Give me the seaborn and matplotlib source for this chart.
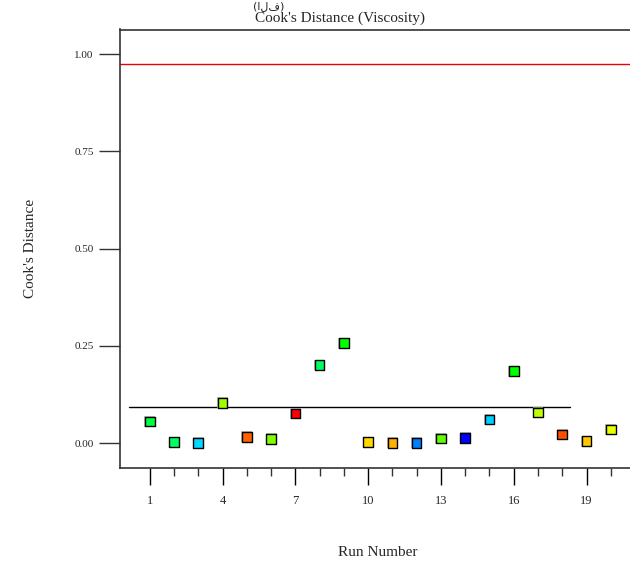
import matplotlib
matplotlib.use("Agg")
import matplotlib.pyplot as plt
import seaborn as sns
import pandas as pd
from matplotlib.ticker import FixedLocator

runs = list(range(1, 21))
cooks_d = [0.056, 0.003, 0.001, 0.104, 0.016, 0.011, 0.076, 0.201, 0.257, 0.003,
           0.001, 0.001, 0.012, 0.014, 0.061, 0.185, 0.079, 0.022, 0.005, 0.035]
point_colors = ["#00ff40", "#00ff60", "#00d8ff", "#a0ff00", "#ff6000", "#80ff00",
                "#ff0000", "#00ff60", "#00ff00", "#ffd800", "#ffb000", "#0080ff",
                "#60ff00", "#0000ff", "#00d0ff", "#00ff00", "#c0ff00", "#ff5000",
                "#ffc800", "#e8ff00"]
limit_red = 0.976
limit_black = 0.094
limit_black_span = (0.135, 18.32)
y_ticks = [0.00, 0.25, 0.50, 0.75, 1.00]
x_major_ticks = [1, 4, 7, 10, 13, 16, 19]

df = pd.DataFrame({"run": runs, "d": cooks_d, "c": [str(r) for r in runs]})

sns.set_style("white")
plt.rcParams["font.family"] = ["Liberation Serif", "DejaVu Sans"]

fig = plt.figure(figsize=(6.3, 5.63), dpi=100)
ax = fig.add_axes([120/630, 1 - 467.5/563, 1 - 120/630, (467.5 - 29.5)/563])

# shadow squares
ax.scatter(df["run"], df["d"], s=62, marker="s", color="#b0b0b0",
           edgecolor="none", zorder=2, alpha=0.8)
sns.scatterplot(data=df, x="run", y="d", hue="c", palette=point_colors,
                marker="s", s=48, edgecolor="black", linewidth=1.0,
                legend=False, ax=ax, zorder=3)

ax.axhline(limit_red, color="#ee0000", lw=1.0, zorder=1)
ax.plot(limit_black_span, [limit_black, limit_black], color="black", lw=1.0, zorder=1)

ax.set_xlim(-0.224, 20.79)
ax.set_ylim(-0.0625, 1.0635)

ax.yaxis.set_major_locator(FixedLocator(y_ticks))
ax.set_yticklabels([f"{v:.2f}" for v in y_ticks])
ax.xaxis.set_major_locator(FixedLocator(x_major_ticks))
ax.xaxis.set_minor_locator(FixedLocator(runs))
ax.set_xticklabels([str(v) for v in x_major_ticks])

for s in ["left", "top", "bottom"]:
    ax.spines[s].set_color("#333333")
    ax.spines[s].set_linewidth(1.2)
ax.spines["right"].set_visible(False)

ax.tick_params(axis="y", which="major", direction="out", length=15, width=1,
               color="#333333", labelsize=8, pad=4, left=True)
ax.tick_params(axis="x", which="major", direction="out", length=12, width=1,
               color="black", labelsize=9, pad=8, bottom=True)
ax.tick_params(axis="x", which="minor", direction="out", length=6, width=1,
               color="#333333", bottom=True)

ax.set_xlabel("")
ax.set_ylabel("")

fig.text(30/630, 1 - 248/563, "Cook's Distance", rotation=90, ha="center",
         va="center", fontsize=11)
fig.text(378/630, 1 - 552/563, "Run Number", ha="center", va="center", fontsize=11)
fig.text(340/630, 1 - 18.5/563, "Cook's Distance (Viscosity)", ha="center",
         va="center", fontsize=11)
fig.text(269/630, 1 - 1/563, "(الف)", ha="center", va="top", fontsize=8,
         family=["DejaVu Sans"])

fig.savefig("out.png", dpi=100)
